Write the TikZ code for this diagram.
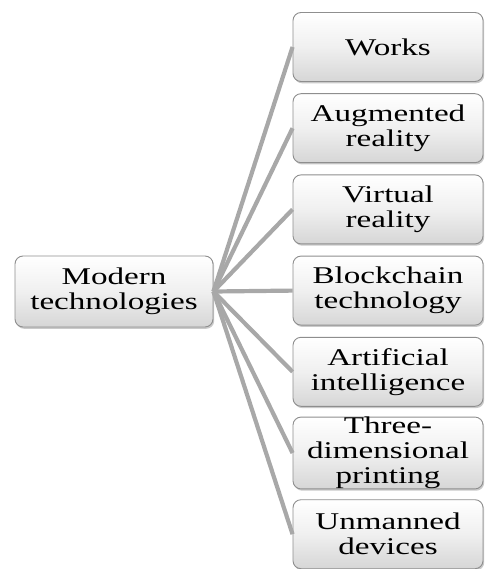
\documentclass[tikz,border=0pt]{standalone}
\usepackage{fontspec}
\setmainfont{Liberation Serif}[FakeStretch=1.38]
\usetikzlibrary{shadows}
\definecolor{linkgray}{HTML}{A8A8A8}
\definecolor{boxedge}{HTML}{8E8E8E}
\definecolor{boxbottom}{HTML}{D6D6D6}
\tikzset{
  techbox/.style={draw=boxedge, line width=0.9pt, rounded corners=8pt,
    top color=white, bottom color=boxbottom, middle color=white!94!black,
    align=center, inner sep=0pt, minimum width=190pt, minimum height=69pt,
    font=\fontsize{24pt}{25pt}\selectfont,
    drop shadow={shadow xshift=1.2pt, shadow yshift=-1.8pt, opacity=0.35, fill=black!60}},
  rootbox/.style={techbox, minimum width=198pt, minimum height=71pt},
  link/.style={draw=linkgray, line width=4.2pt}
}
\begin{document}
\begin{tikzpicture}[x=1pt, y=-1pt]
  \useasboundingbox (0,0) rectangle (486,569);
  % root
  \node[rootbox] (root) at (114,291.5) {Modern\\technologies};
  % branches
  \node[techbox] (works) at (388,47) {Works};
  \node[techbox] (ar)    at (388,128.2) {Augmented\\reality};
  \node[techbox] (vr)    at (388,209.4) {Virtual\\reality};
  \node[techbox] (bc)    at (388,290.6) {Blockchain\\technology};
  \node[techbox] (ai)    at (388,371.8) {Artificial\\intelligence};
  \node[techbox] (tdp)   at (388,453) {Three-\\dimensional\\printing};
  \node[techbox] (ud)    at (388,534.2) {Unmanned\\devices};
  % connectors
  \foreach \n in {works,ar,vr,bc,ai,tdp,ud}
    \draw[link] (root.east) -- (\n.west);
\end{tikzpicture}
\end{document}
